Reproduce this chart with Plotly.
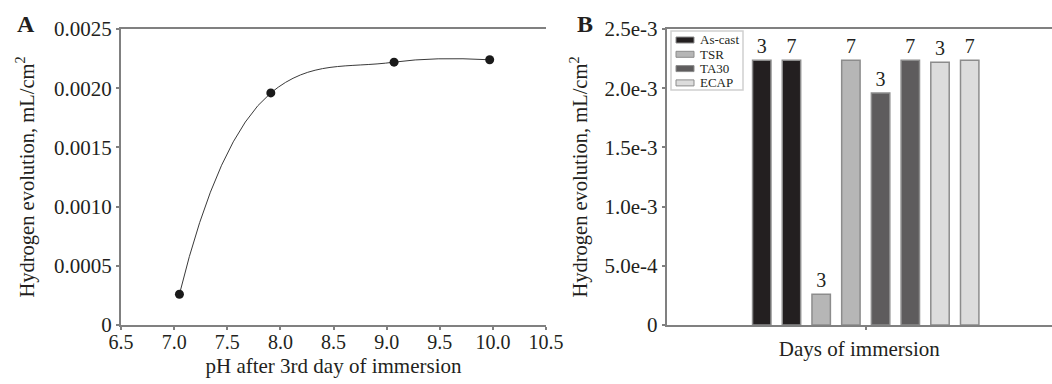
import plotly.graph_objects as go

# Panel A data
ph_values = [7.05, 7.91, 9.07, 9.97]
hydrogen_a = [0.00026, 0.00196, 0.00222, 0.00224]

# Panel B data
materials = ["As-cast", "TSR", "TA30", "ECAP"]
days = ["3", "7"]
hydrogen_b = {
    "As-cast": [0.002237, 0.002237],
    "TSR": [0.00026, 0.002237],
    "TA30": [0.00196, 0.002237],
    "ECAP": [0.00222, 0.002237],
}
colors = {"As-cast": "#231f20", "TSR": "#b6b6b6", "TA30": "#5e5c5d", "ECAP": "#dcdcdc"}

y_ticks_a = [0, 0.0005, 0.0010, 0.0015, 0.0020, 0.0025]
y_ticktext_a = ["0", "0.0005", "0.0010", "0.0015", "0.0020", "0.0025"]
y_ticktext_b = ["0", "5.0e-4", "1.0e-3", "1.5e-3", "2.0e-3", "2.5e-3"]
x_ticks_a = [6.5, 7.0, 7.5, 8.0, 8.5, 9.0, 9.5, 10.0, 10.5]

FONT = "Liberation Serif"
AXC = "#808080"
TXT = "#231f20"

fig = go.Figure()

fig.add_trace(go.Scatter(
    x=ph_values, y=hydrogen_a, mode="lines+markers",
    line=dict(shape="spline", smoothing=1.2, color="#3a3a3a", width=1),
    marker=dict(size=9, color="#1a1a1a"),
    xaxis="x", yaxis="y", showlegend=False,
))

for i, m in enumerate(materials):
    fig.add_trace(go.Bar(
        x=[2 * i + j for j in range(len(days))],
        y=hydrogen_b[m],
        name=m,
        text=days,
        textposition="outside",
        textfont=dict(family=FONT, size=20, color=TXT),
        cliponaxis=False,
        width=0.62,
        marker=dict(color=colors[m], line=dict(color="#8c8c8c", width=1.5)),
        xaxis="x2", yaxis="y2", showlegend=False,
    ))

W, H = 1052, 384
def px(x):
    return x / W
def py(y):
    return 1 - y / H

def axis_common(size):
    return dict(showgrid=False, zeroline=False, showline=True, linecolor=AXC, linewidth=2,
                ticks="outside", ticklen=3, tickcolor=AXC, tickwidth=1.5, automargin=False,
                tickfont=dict(family=FONT, size=size, color=TXT))

# manual compact legend (box, swatches, labels)
shapes = [dict(type="rect", xref="paper", yref="paper",
               x0=px(671), x1=px(743), y0=py(90), y1=py(31),
               fillcolor="white", line=dict(color="#d0d0d0", width=1.5))]
annotations = [
    dict(text="<b>A</b>", x=px(26), y=py(24), xref="paper", yref="paper",
         xanchor="center", yanchor="middle",
         showarrow=False, font=dict(family=FONT, size=24, color=TXT)),
    dict(text="<b>B</b>", x=px(585), y=py(24), xref="paper", yref="paper",
         xanchor="center", yanchor="middle",
         showarrow=False, font=dict(family=FONT, size=24, color=TXT)),
]
for i, m in enumerate(materials):
    row_y = 40 + 14.3 * i
    shapes.append(dict(type="rect", xref="paper", yref="paper",
                       x0=px(676), x1=px(694), y0=py(row_y + 3), y1=py(row_y - 3),
                       fillcolor=colors[m], line=dict(color="#8c8c8c", width=1)))
    annotations.append(dict(text=m, x=px(698), y=py(row_y), xref="paper", yref="paper",
                            xanchor="left", yanchor="middle", showarrow=False,
                            font=dict(family=FONT, size=13, color=TXT)))

fig.update_layout(
    template="none",
    width=W, height=H,
    margin=dict(l=0, r=0, t=0, b=0, pad=0),
    paper_bgcolor="white", plot_bgcolor="white",
    barmode="overlay",
    showlegend=False,
    xaxis=dict(domain=[px(121), px(546)], range=[6.5, 10.5], tickvals=x_ticks_a,
               tickformat=".1f", mirror=True, anchor="y", ticklabelstandoff=-5,
               title=dict(text="pH after 3rd day of immersion",
                          font=dict(family=FONT, size=21, color=TXT), standoff=6),
               **axis_common(20)),
    yaxis=dict(domain=[py(325), py(29)], range=[0, 0.0025], tickvals=y_ticks_a,
               ticktext=y_ticktext_a, anchor="x",
               title=dict(text="Hydrogen evolution, mL/cm<sup>2</sup>",
                          font=dict(family=FONT, size=20.5, color=TXT), standoff=14),
               **axis_common(21)),
    xaxis2=dict(domain=[px(666.7), 1.0], range=[-3.2, 9.77], tickvals=[3.5],
                showticklabels=False, mirror=True, anchor="y2",
                title=dict(text="Days of immersion",
                           font=dict(family=FONT, size=21, color=TXT), standoff=12),
                **axis_common(20)),
    yaxis2=dict(domain=[py(325), py(29)], range=[0, 0.0025], tickvals=y_ticks_a,
                ticktext=y_ticktext_b, anchor="x2",
                title=dict(text="Hydrogen evolution, mL/cm<sup>2</sup>",
                           font=dict(family=FONT, size=20.5, color=TXT), standoff=11),
                **axis_common(21)),
    shapes=shapes,
    annotations=annotations,
)

fig.write_html(
    "out.html",
    config={"displayModeBar": False},
    post_script="document.body.style.margin='0';document.body.style.overflow='hidden';",
)
